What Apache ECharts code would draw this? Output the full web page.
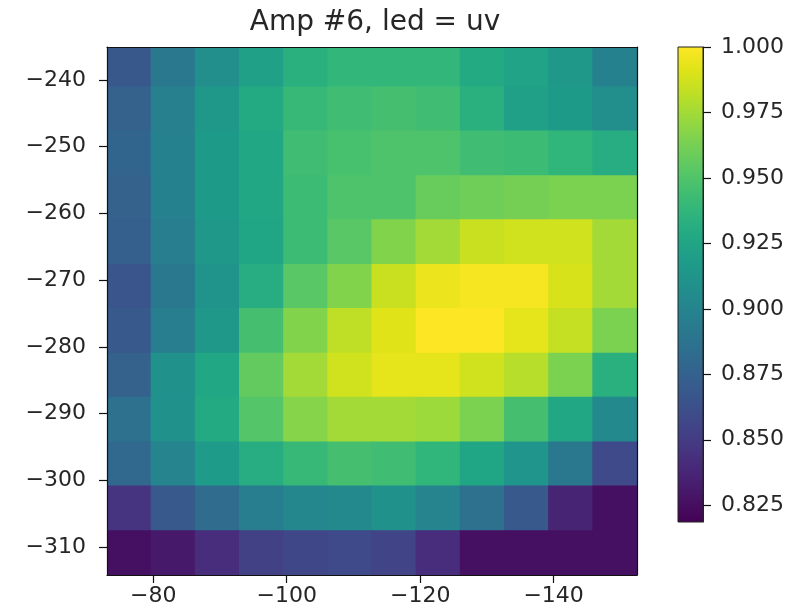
<!DOCTYPE html>
<html>
<head>
<meta charset="utf-8">
<title>Amp #6, led = uv</title>
<script src="https://cdn.jsdelivr.net/npm/echarts@6/dist/echarts.min.js"></script>
<style>
  html, body { margin: 0; padding: 0; background: #fff; }
  #chart { width: 806px; height: 616px; }
</style>
</head>
<body>
<div id="chart"></div>
<script>
// cell centres (x runs -76 -> -149, drawn right to left)
var xCenters = [-76.37, -82.99, -89.61, -96.23, -102.85, -109.47, -116.09, -122.71, -129.33, -135.95, -142.57, -149.19];
// rows from top to bottom
var yCenters = [-237.7, -244.4, -251.0, -257.7, -264.3, -271.0, -277.6, -284.3, -290.9, -297.6, -304.2, -310.9];

var amp = [
  [0.868, 0.891, 0.908, 0.922, 0.933, 0.938, 0.938, 0.938, 0.929, 0.924, 0.915, 0.898],
  [0.875, 0.897, 0.915, 0.929, 0.940, 0.944, 0.946, 0.944, 0.933, 0.922, 0.917, 0.908],
  [0.877, 0.898, 0.917, 0.927, 0.944, 0.947, 0.949, 0.949, 0.944, 0.942, 0.937, 0.931],
  [0.875, 0.898, 0.917, 0.927, 0.942, 0.949, 0.949, 0.958, 0.960, 0.962, 0.964, 0.964],
  [0.873, 0.895, 0.915, 0.926, 0.942, 0.953, 0.966, 0.975, 0.985, 0.987, 0.987, 0.975],
  [0.866, 0.891, 0.911, 0.931, 0.953, 0.966, 0.985, 0.995, 0.998, 0.998, 0.989, 0.975],
  [0.869, 0.895, 0.915, 0.946, 0.966, 0.982, 0.991, 1.000, 1.000, 0.993, 0.984, 0.964],
  [0.875, 0.909, 0.927, 0.956, 0.975, 0.987, 0.993, 0.993, 0.987, 0.980, 0.964, 0.933],
  [0.886, 0.909, 0.929, 0.951, 0.967, 0.975, 0.975, 0.973, 0.964, 0.946, 0.927, 0.904],
  [0.879, 0.900, 0.918, 0.931, 0.940, 0.946, 0.944, 0.937, 0.926, 0.913, 0.891, 0.859],
  [0.846, 0.869, 0.882, 0.895, 0.902, 0.904, 0.909, 0.900, 0.886, 0.869, 0.837, 0.826],
  [0.826, 0.831, 0.842, 0.853, 0.857, 0.859, 0.855, 0.842, 0.826, 0.826, 0.826, 0.826]
];

var xTicks = [-140, -120, -100, -80];
var yTicks = [-310, -300, -290, -280, -270, -260, -250, -240];
var cbTicks = [0.825, 0.850, 0.875, 0.900, 0.925, 0.950, 0.975, 1.000];
var vMin = 0.8186, vMax = 1.0;

var viridis = ['#440154', '#471365', '#482475', '#463480', '#414487', '#3b528b', '#355f8d',
  '#2f6c8e', '#2a788e', '#25848e', '#21918c', '#1e9c89', '#22a884', '#2fb47c', '#44bf70',
  '#5ec962', '#7ad151', '#9bd93c', '#bddf26', '#dfe318', '#fde725'];

var cells = [];
for (var r = 0; r < yCenters.length; r++) {
  for (var c = 0; c < xCenters.length; c++) {
    cells.push([xCenters[c], yCenters[r], amp[r][c]]);
  }
}
var cw = Math.abs(xCenters[1] - xCenters[0]);
var ch = Math.abs(yCenters[1] - yCenters[0]);

var myChart = echarts.init(document.getElementById('chart'));
var txt = '#262626';
var font = 'DejaVu Sans';
var minus = function (v) { return String(v).replace('-', '\u2212'); };

var option = {
  backgroundColor: '#fff',
  animation: false,
  title: {
    text: 'Amp #6, led = uv',
    left: 370, top: 4, textAlign: 'center',
    textStyle: { fontFamily: font, fontSize: 28, fontWeight: 'normal', color: txt }
  },
  grid: [
    { left: 107, top: 47, width: 530, height: 528 },
    { left: 678, top: 47, width: 25, height: 475 }   // colour bar
  ],
  xAxis: [
    {
      type: 'value', gridIndex: 0, inverse: true, min: -152.5, max: -73.06,
      position: 'bottom', z: 10,
      splitLine: { show: false },
      axisLine: { show: true, onZero: false, lineStyle: { color: '#111', width: 1.2 } },
      axisTick: { show: true, length: 8, lineStyle: { color: '#111', width: 1.2 }, customValues: xTicks },
      axisLabel: {
        fontFamily: font, fontSize: 22, color: txt, margin: 10, customValues: xTicks,
        formatter: minus
      }
    },
    {
      type: 'value', gridIndex: 0, inverse: true, min: -152.5, max: -73.06,
      position: 'top', z: 10,
      splitLine: { show: false }, axisTick: { show: false }, axisLabel: { show: false },
      axisLine: { show: true, onZero: false, lineStyle: { color: '#111', width: 1.2 } }
    },
    {
      type: 'value', gridIndex: 1, min: 0, max: 1, show: false
    }
  ],
  yAxis: [
    {
      type: 'value', gridIndex: 0, min: -314.2, max: -235.05,
      position: 'left', z: 10,
      splitLine: { show: false },
      axisLine: { show: true, onZero: false, lineStyle: { color: '#111', width: 1.2 } },
      axisTick: { show: true, length: 8, lineStyle: { color: '#111', width: 1.2 }, customValues: yTicks },
      axisLabel: {
        fontFamily: font, fontSize: 22, color: txt, margin: 21, customValues: yTicks,
        formatter: minus
      }
    },
    {
      type: 'value', gridIndex: 0, min: -314.2, max: -235.05,
      position: 'right', z: 10,
      splitLine: { show: false }, axisTick: { show: false }, axisLabel: { show: false },
      axisLine: { show: true, onZero: false, lineStyle: { color: '#111', width: 1.2 } }
    },
    {
      type: 'value', gridIndex: 1, min: vMin, max: vMax,
      position: 'right', z: 10,
      splitLine: { show: false },
      axisLine: { show: true, onZero: false, lineStyle: { color: '#222', width: 1 } },
      axisTick: { show: true, length: 8, lineStyle: { color: '#111', width: 1.2 }, customValues: cbTicks },
      axisLabel: {
        fontFamily: font, fontSize: 22, color: txt, margin: 18, customValues: cbTicks,
        formatter: function (v) { return v.toFixed(3); }
      }
    }
  ],
  visualMap: {
    show: false, type: 'continuous', seriesIndex: 0, dimension: 2,
    min: vMin, max: vMax, inRange: { color: viridis }
  },
  series: [
    {
      type: 'custom', xAxisIndex: 0, yAxisIndex: 0,
      data: cells,
      renderItem: function (params, api) {
        var p1 = api.coord([api.value(0) - cw / 2, api.value(1) + ch / 2]);
        var p2 = api.coord([api.value(0) + cw / 2, api.value(1) - ch / 2]);
        // pad half a pixel so neighbouring cells leave no seam
        var x0 = Math.min(p1[0], p2[0]) - 0.5, x1 = Math.max(p1[0], p2[0]) + 0.5;
        var y0 = Math.min(p1[1], p2[1]) - 0.5, y1 = Math.max(p1[1], p2[1]) + 0.5;
        var rect = echarts.graphic.clipRectByRect(
          { x: x0, y: y0, width: x1 - x0, height: y1 - y0 },
          { x: params.coordSys.x, y: params.coordSys.y, width: params.coordSys.width, height: params.coordSys.height }
        );
        return rect && {
          type: 'rect', shape: rect,
          style: { fill: api.visual('color') }
        };
      }
    },
    {
      // colour bar
      type: 'custom', xAxisIndex: 2, yAxisIndex: 2,
      data: [[0, 1, vMin, vMax]],
      renderItem: function (params, api) {
        var p1 = api.coord([api.value(0), api.value(3)]);
        var p2 = api.coord([api.value(1), api.value(2)]);
        var stops = viridis.map(function (c, i) {
          return { offset: 1 - i / (viridis.length - 1), color: c };
        });
        return {
          type: 'rect',
          shape: { x: p1[0], y: p1[1], width: p2[0] - p1[0], height: p2[1] - p1[1] },
          style: {
            fill: new echarts.graphic.LinearGradient(0, 0, 0, 1, stops),
            stroke: '#222', lineWidth: 1
          }
        };
      }
    }
  ]
};
myChart.setOption(option);
</script>
</body>
</html>
